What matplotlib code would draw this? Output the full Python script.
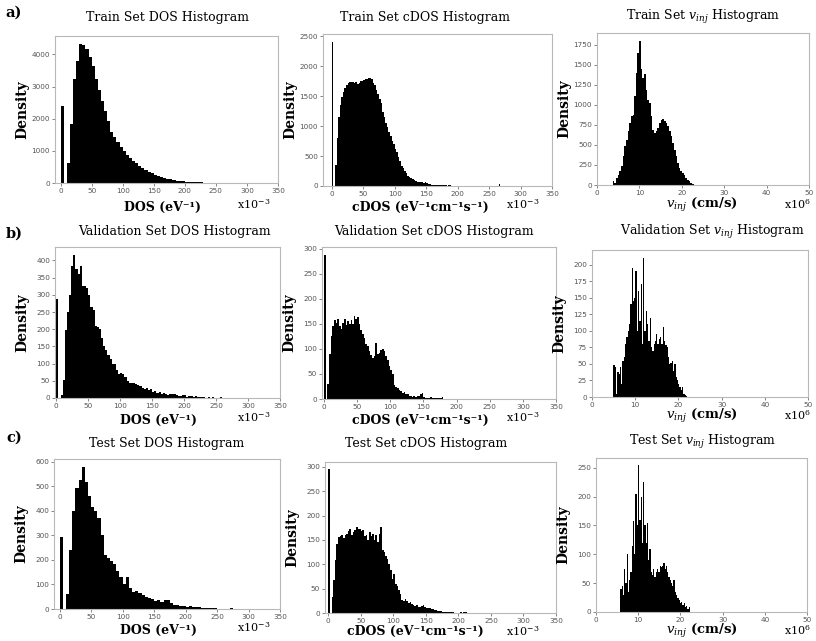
import numpy as np
import matplotlib
matplotlib.use("Agg")
import matplotlib.pyplot as plt

plt.rcParams['font.family'] = ['DejaVu Serif']
plt.rcParams['mathtext.fontset'] = 'dejavuserif'

"""
Histogram counts read off the figure (bins start at the given edge)
"""
# DOS, x in units of 1e-3 eV^-1
train_dos_start, train_dos_width = 0.0, 5.0
train_dos_counts = [2400, 0, 630, 1840, 3235, 3790, 4330, 4290, 4155, 3930,
                    3650, 3235, 2895, 2540, 2240, 1920, 1600, 1420, 1260, 1120,
                    980, 870, 780, 690, 610, 540, 470, 410, 350, 300,
                    250, 220, 185, 160, 130, 110, 90, 75, 60, 50,
                    40, 33, 28, 24, 20, 16, 14, 12, 10, 9,
                    8, 7, 6, 5, 5, 4, 4, 3, 3, 3,
                    2, 2, 2, 2, 1, 1, 1, 1, 1, 1]

val_dos_start, val_dos_width = 0.0, 10 / 3
val_dos_counts = [288, 0, 8, 53, 197, 250, 300, 383, 415, 375,
                  360, 385, 325, 325, 320, 300, 265, 255, 210, 205,
                  200, 175, 150, 140, 125, 112, 100, 100, 80, 70,
                  72, 70, 62, 48, 45, 45, 44, 42, 38, 35,
                  28, 25, 30, 22, 25, 18, 20, 15, 17, 12,
                  14, 13, 10, 12, 11, 13, 8, 6, 5, 10,
                  8, 4, 6, 7, 3, 5, 4, 2, 3, 2,
                  1, 2, 1, 3, 1, 0, 1, 2, 0, 1,
                  1, 0, 1, 0, 0, 1, 0, 1]

test_dos_start, test_dos_width = 0.0, 5.0
test_dos_counts = [295, 0, 62, 240, 400, 495, 525, 578, 520, 460,
                   415, 398, 370, 300, 220, 210, 195, 185, 155, 130,
                   100, 130, 85, 70, 75, 65, 57, 50, 45, 40,
                   32, 35, 28, 38, 35, 25, 18, 15, 12, 12,
                   10, 12, 10, 10, 8, 6, 5, 4, 3, 3,
                   2, 2, 1, 1, 3, 2, 1, 1, 2, 1,
                   1, 1, 0, 1, 1, 1, 0, 1, 1, 0]

# cDOS, x in units of 1e-3 eV^-1 cm^-1 s^-1
train_cdos_start, train_cdos_width = 0.0, 2.5
train_cdos_counts = [2400, 0, 350, 800, 1150, 1350, 1480, 1570, 1640, 1690,
                     1720, 1740, 1745, 1730, 1720, 1735, 1710, 1720, 1750, 1760,
                     1770, 1785, 1790, 1810, 1800, 1780, 1720, 1680, 1610, 1540,
                     1460, 1380, 1240, 1150, 1060, 980, 900, 830, 760, 700,
                     620, 560, 480, 420, 340, 300, 245, 210, 175, 150,
                     130, 115, 100, 88, 75, 68, 62, 60, 58, 60,
                     50, 38, 32, 25, 20, 15, 12, 10, 15, 25,
                     20, 10, 12, 8, 15, 10, 5, 3, 2, 1,
                     1] + [0] * 25 + [30]

val_cdos_start, val_cdos_width = 0.0, 2.5
val_cdos_counts = [288, 0, 30, 90, 125, 145, 158, 152, 160, 145,
                   140, 152, 160, 148, 155, 150, 158, 150, 165, 160,
                   163, 150, 138, 130, 121, 110, 105, 95, 88, 82,
                   85, 112, 90, 92, 98, 100, 96, 85, 78, 65,
                   58, 50, 28, 24, 22, 18, 15, 12, 13, 10,
                   9, 6, 5, 4, 5, 3, 5, 6, 9, 12,
                   4, 2, 2, 1, 3, 1, 2, 1, 1, 2,
                   1, 3]

test_cdos_start, test_cdos_width = 0.0, 2.5
test_cdos_counts = [296, 0, 33, 67, 108, 142, 156, 158, 160, 155,
                    160, 163, 168, 172, 160, 166, 170, 177, 172, 173,
                    168, 170, 158, 160, 150, 166, 158, 163, 150, 160,
                    145, 162, 177, 129, 125, 118, 110, 101, 88, 70,
                    81, 60, 55, 47, 38, 26, 24, 29, 25, 20,
                    22, 19, 17, 15, 16, 12, 12, 14, 16, 12,
                    11, 10, 10, 8, 9, 7, 7, 5, 4, 4,
                    3, 3, 3, 2, 2, 2, 2, 1, 1, 1,
                    1, 2, 1, 3, 3]

# v_inj, x in units of 1e6 cm/s
train_vinj_start, train_vinj_width = 3.7, 0.39
train_vinj_counts = [45, 25, 87, 130, 170, 233, 357, 482, 565, 670,
                     773, 865, 877, 1105, 1400, 1645, 1790, 1440, 1335, 1390,
                     1190, 1065, 1020, 856, 690, 648, 670, 710, 773, 815,
                     823, 794, 773, 730, 670, 607, 524, 440, 357, 274,
                     212, 170, 150, 129, 87, 66, 45, 25, 12]

val_vinj_start, val_vinj_width = 4.95, 0.3
val_vinj_counts = [48, 45, 5, 38, 35, 45, 20, 55, 60, 80,
                   90, 100, 110, 140, 195, 145, 150, 190, 100, 160,
                   115, 170, 80, 210, 100, 130, 110, 85, 120, 75,
                   70, 80, 85, 95, 80, 88, 90, 80, 105, 85,
                   78, 75, 60, 50, 52, 55, 40, 50, 30, 25,
                   20, 15, 10, 15, 5, 3, 2]

test_vinj_start, test_vinj_width = 5.75, 0.3
test_vinj_counts = [40, 45, 30, 75, 50, 100, 35, 55, 70, 115,
                    158, 100, 205, 150, 255, 160, 200, 120, 225, 150,
                    120, 155, 90, 110, 70, 65, 75, 60, 70, 75,
                    70, 80, 78, 80, 85, 75, 80, 70, 60, 55,
                    50, 45, 55, 35, 30, 25, 20, 15, 18, 12,
                    15, 8, 10, 5, 8]

"""
Figure layout
"""
W, H = 816, 641
fig = plt.figure(figsize=(W / 100, H / 100), dpi=100)


def px_axes(left, top, right, bottom):
    return fig.add_axes([left / W, 1 - bottom / H, (right - left) / W, (bottom - top) / H])


def ftext(x, y, s, **kw):
    kw.setdefault('ha', 'center')
    kw.setdefault('va', 'center')
    return fig.text(x / W, 1 - y / H, s, **kw)


def draw_hist(ax, counts, start, width, xlim, xticks, ylim, yticks):
    edges = start + width * np.arange(len(counts) + 1)
    ax.bar(edges[:-1], counts, width=width, align='edge', color='black', linewidth=0)
    ax.set_xlim(xlim)
    ax.set_ylim(ylim)
    ax.set_xticks(xticks)
    ax.set_yticks(yticks)
    ax.tick_params(labelsize=5.2, colors='#555555', length=2, width=0.5, pad=1.5)
    for lab in ax.get_xticklabels() + ax.get_yticklabels():
        lab.set_family('DejaVu Sans')
    for sp in ax.spines.values():
        sp.set_color('#b8b8b8')
        sp.set_linewidth(0.8)


dos_ticks = np.arange(0, 351, 50)
vinj_ticks = np.arange(0, 51, 10)

panels = [
    # counts, start, width, box (l, t, r, b), xlim, xticks, ylim, yticks
    (train_dos_counts, train_dos_start, train_dos_width, (55, 36, 278, 183),
     (-9, 350), dos_ticks, (0, 4570), np.arange(0, 4001, 1000)),
    (train_cdos_counts, train_cdos_start, train_cdos_width, (323, 34, 552, 186),
     (-14, 350), dos_ticks, (0, 2540), np.arange(0, 2501, 500)),
    (train_vinj_counts, train_vinj_start, train_vinj_width, (597, 33, 809, 185),
     (0, 50), vinj_ticks, (0, 1895), np.arange(0, 1751, 250)),
    (val_dos_counts, val_dos_start, val_dos_width, (55, 247, 280, 398),
     (-2, 350), dos_ticks, (0, 439), np.arange(0, 401, 50)),
    (val_cdos_counts, val_cdos_start, val_cdos_width, (322, 247, 556, 399),
     (-3, 350), dos_ticks, (0, 303), np.arange(0, 301, 50)),
    (val_vinj_counts, val_vinj_start, val_vinj_width, (592, 250, 808, 397),
     (0, 50), vinj_ticks, (0, 222), np.arange(0, 201, 25)),
    (test_dos_counts, test_dos_start, test_dos_width, (54, 459, 280, 609),
     (-9, 350), dos_ticks, (0, 612), np.arange(0, 601, 100)),
    (test_cdos_counts, test_cdos_start, test_cdos_width, (325, 462, 556, 613),
     (-5, 350), dos_ticks, (0, 310), np.arange(0, 301, 50)),
    (test_vinj_counts, test_vinj_start, test_vinj_width, (596, 458, 807, 612),
     (0, 50), vinj_ticks, (0, 267), np.arange(0, 251, 50)),
]

for counts, start, width, box, xlim, xticks, ylim, yticks in panels:
    ax = px_axes(*box)
    draw_hist(ax, counts, start, width, xlim, xticks, ylim, yticks)
    # y label sits about 33 px left of the axes
    ftext(box[0] - 33, (box[1] + box[3]) / 2, 'Density', rotation=90,
          fontsize=10, fontweight='bold')

# titles
vinj = r'$v_{inj}$'
titles = [
    ('Train Set DOS Histogram', 167, 17),
    ('Train Set cDOS Histogram', 425, 17),
    ('Train Set ' + vinj + ' Histogram', 703, 17),
    ('Validation Set DOS Histogram', 174, 232),
    ('Validation Set cDOS Histogram', 434, 232),
    ('Validation Set ' + vinj + ' Histogram', 712, 232),
    ('Test Set DOS Histogram', 167, 444),
    ('Test Set cDOS Histogram', 426, 444),
    ('Test Set ' + vinj + ' Histogram', 703, 442),
]
for s, x, y in titles:
    ftext(x, y, s, fontsize=9)

# axis labels and scale factors
dos_lab = 'DOS (eV\u207b\u00b9)'
cdos_lab = 'cDOS (eV\u207b\u00b9cm\u207b\u00b9s\u207b\u00b9)'
vinj_lab = r'$v_{inj}$ (cm/s)'
row_y = [207, 420, 630]
vinj_y = [205, 416, 631]
cdos_scale_y = [204, 417, 631]
for r, y in enumerate(row_y):
    ftext(163 - (5 if r else 0), y, dos_lab, fontsize=9, fontweight='bold')
    ftext(420 - (5 if r == 2 else 0), y + (1 if r == 2 else 0), cdos_lab,
          fontsize=9, fontweight='bold')
    ftext(702, vinj_y[r], vinj_lab, fontsize=9.5, fontweight='bold')
    ftext(254, y - 3, r'x10$^{-3}$', fontsize=8)
    ftext(523, cdos_scale_y[r], r'x10$^{-3}$', fontsize=8)
    ftext(797, vinj_y[r] - 1, r'x10$^{6}$', fontsize=8)

# panel letters
for s, y in [('a)', 13), ('b)', 234), ('c)', 438)]:
    ftext(14, y, s, fontsize=10.5, fontweight='bold')

fig.savefig('out.png', dpi=100)
